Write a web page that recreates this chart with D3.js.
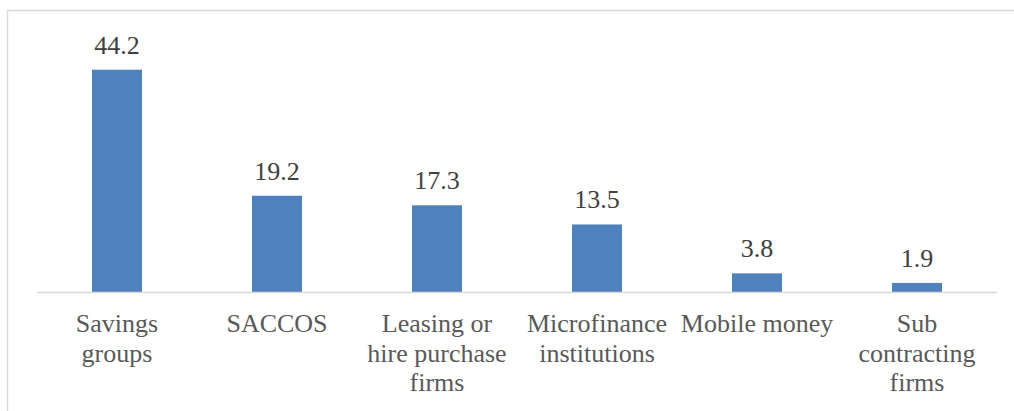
<!DOCTYPE html>
<html>
<head>
<meta charset="utf-8">
<script src="https://cdn.jsdelivr.net/npm/d3@7"></script>
<style>
  body { margin: 0; background: #fff; }
  svg { display: block; }
</style>
</head>
<body>
<script>
const categories = ['Savings groups', 'SACCOS', 'Leasing or hire purchase firms', 'Microfinance institutions', 'Mobile money', 'Sub contracting firms']
const labelLines = [
  ['Savings', 'groups'],
  ['SACCOS'],
  ['Leasing or', 'hire purchase', 'firms'],
  ['Microfinance', 'institutions'],
  ['Mobile money'],
  ['Sub', 'contracting', 'firms']
]
const values = [44.2, 19.2, 17.3, 13.5, 3.8, 1.9]

const w = 1014
const h = 411
const x0 = 37
const x1 = 997
const base = 292.5
const font = "'Liberation Serif'"

const svg = d3.select('body')
              .append('svg')
              .attr('width', w)
              .attr('height', h)

// chart frame
svg.append('rect')
  .attr('x', 7.5)
  .attr('y', 10.5)
  .attr('width', w + 20)
  .attr('height', h + 20)
  .attr('fill', 'none')
  .attr('stroke', '#d9d9d9')
  .attr('stroke-width', 1.5)

const xScale = d3.scaleBand()
                 .domain(categories)
                 .range([x0, x1])
                 .paddingInner(0.6875)
                 .paddingOuter(0.34375)

const yScale = d3.scaleLinear()
                 .domain([0, 50])
                 .range([base, base - 50 * 5.04])

svg.selectAll('rect.bar')
  .data(values)
  .enter()
  .append('rect')
  .attr('class', 'bar')
  .attr('x', (d, i) => xScale(categories[i]))
  .attr('y', d => yScale(d))
  .attr('width', xScale.bandwidth())
  .attr('height', d => yScale(0) - yScale(d))
  .attr('fill', '#4f81bd')

svg.selectAll('text.val')
  .data(values)
  .enter()
  .append('text')
  .attr('class', 'val')
  .attr('x', (d, i) => xScale(categories[i]) + xScale.bandwidth() / 2)
  .attr('y', d => yScale(d) - 16)
  .attr('text-anchor', 'middle')
  .style('font-family', font)
  .style('font-size', '26px')
  .attr('fill', '#404040')
  .text(d => d.toFixed(1))

// baseline
svg.append('line')
  .attr('x1', x0)
  .attr('x2', x1)
  .attr('y1', base)
  .attr('y2', base)
  .attr('stroke', '#d9d9d9')
  .attr('stroke-width', 1.5)

const labels = svg.selectAll('text.cat')
  .data(categories)
  .enter()
  .append('text')
  .attr('class', 'cat')
  .attr('text-anchor', 'middle')
  .style('font-family', font)
  .style('font-size', '26px')
  .attr('fill', '#595959')

labels.selectAll('tspan')
  .data((d, i) => labelLines[i].map(t => ({t, c: d})))
  .enter()
  .append('tspan')
  .attr('x', d => xScale(d.c) + xScale.bandwidth() / 2)
  .attr('y', (d, j) => 332 + j * 29.5)
  .text(d => d.t)
</script>
</body>
</html>
